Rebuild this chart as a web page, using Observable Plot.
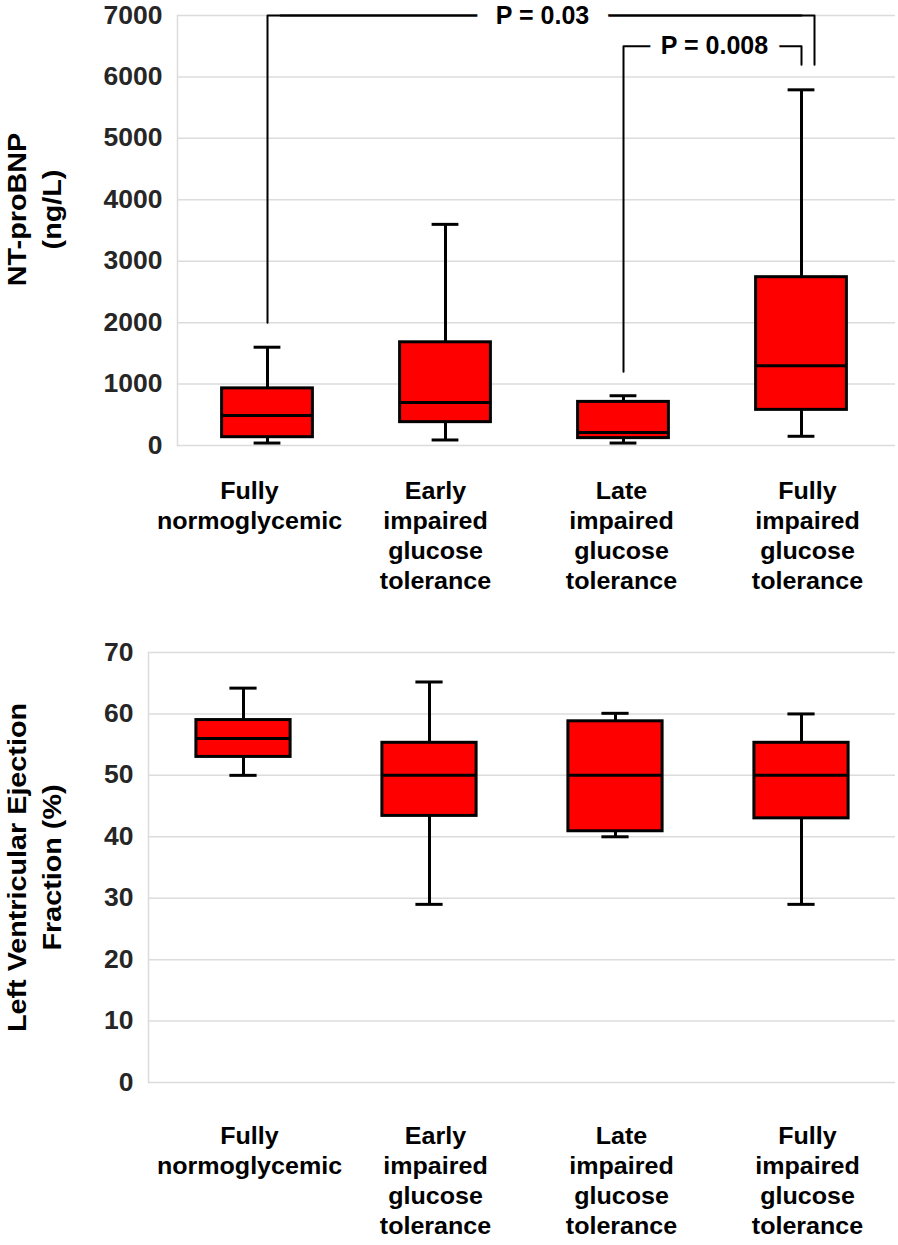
<!DOCTYPE html>
<html><head><meta charset="utf-8">
<script src="https://cdn.jsdelivr.net/npm/d3@7"></script>
<script src="https://cdn.jsdelivr.net/npm/@observablehq/plot@0.6"></script>
<style>
body{margin:0;background:#fff;}
#wrap{position:relative;width:898px;height:1245px;overflow:hidden;font-family:"Liberation Sans",Arial,sans-serif;}
#wrap > div{position:absolute;left:0;}
</style></head><body><div id="wrap">
<div id="top" style="top:0"></div>
<div id="topLabels" style="top:477px"></div>
<div id="bottom" style="top:637px"></div>
<div id="bottomLabels" style="top:1122px"></div>
</div>
<script>
// ---- data ----
const groups = ["Fully normoglycemic", "Early impaired glucose tolerance", "Late impaired glucose tolerance", "Fully impaired glucose tolerance"];
const groupLabels = ["Fully\nnormoglycemic", "Early\nimpaired\nglucose\ntolerance", "Late\nimpaired\nglucose\ntolerance", "Fully\nimpaired\nglucose\ntolerance"];

const bnpTitle = "NT-proBNP\n(ng/L)";
const bnpTicks = [0, 1000, 2000, 3000, 4000, 5000, 6000, 7000];
const bnpMin = [40, 90, 40, 150];
const bnpQ1  = [135, 380, 120, 580];
const bnpMed = [490, 700, 210, 1300];
const bnpQ3  = [930, 1680, 710, 2740];
const bnpMax = [1600, 3600, 810, 5790];

const pLabels = ["P = 0.03", "P = 0.008"];
const p03X = [groups[0], groups[0], groups[3], groups[3]];
const p03Y = [2000, 7000, 7000, 6200];
const p008X = [groups[2], groups[2], groups[3], groups[3]];
const p008Y = [1200, 6500, 6500, 6200];

const lvefTitle = "Left Ventricular Ejection\nFraction (%)";
const lvefTicks = [0, 10, 20, 30, 40, 50, 60, 70];
const lvefMin = [50, 29, 40, 29];
const lvefQ1  = [53, 43.4, 40.9, 43];
const lvefMed = [56, 50, 50, 50];
const lvefQ3  = [59, 55.3, 58.8, 55.3];
const lvefMax = [64.2, 65.2, 60.1, 60];

// ---- helpers ----
const FONT = '"Liberation Sans", Arial, sans-serif';
const rows = (lo, q1, med, q3, hi) => groups.map((g, i) => ({group: g, lo: lo[i], q1: q1[i], med: med[i], q3: q3[i], hi: hi[i]}));

function boxMarks(data, boxInset, capInset) {
  return [
    Plot.ruleX(data, {x: "group", y1: "lo", y2: "hi", stroke: "#000", strokeWidth: 3}),
    Plot.barY(data, {x: "group", y1: "q1", y2: "q3", fill: "#ff0000", stroke: "#000", strokeWidth: 3, insetLeft: boxInset, insetRight: boxInset}),
    Plot.tickY(data, {x: "group", y: "med", stroke: "#000", strokeWidth: 3, insetLeft: boxInset, insetRight: boxInset}),
    Plot.tickY(data, {x: "group", y: "lo", stroke: "#000", strokeWidth: 3, insetLeft: capInset, insetRight: capInset}),
    Plot.tickY(data, {x: "group", y: "hi", stroke: "#000", strokeWidth: 3, insetLeft: capInset, insetRight: capInset})
  ];
}
function frameMarks(ticks, title, dx, dy) {
  return [
    Plot.gridY(ticks, {stroke: "#dcdcdc", strokeOpacity: 1, strokeWidth: 1.5}),
    Plot.frame({anchor: "left", stroke: "#dcdcdc", strokeWidth: 1.5}),
    Plot.axisY(ticks, {tickSize: 0, tickPadding: 15, fontSize: 25, fontWeight: "bold", fill: "#262626", label: null, tickFormat: d => String(d)}),
    Plot.text([title], {text: d => d, frameAnchor: "left", rotate: -90, dx, dy, fontSize: 25, fontWeight: "bold", fill: "#000", lineHeight: 1.4, textAnchor: "middle", lineAnchor: "middle"})
  ];
}
// stretch glyphs along the text direction to match the reference's wide bold face
function widenText(svg) {
  svg.querySelectorAll("text").forEach(t => {
    const g = t.closest("g[font-size]");
    const fs = g ? +g.getAttribute("font-size") : 0;
    const tr = t.getAttribute("transform") || "";
    let sx = null;
    if (tr.includes("rotate")) sx = 1.15;
    else if (fs === 23) sx = 1.09;
    else if (g && g.getAttribute("aria-label") === "y-axis tick label") sx = 1.06;
    if (sx != null) t.setAttribute("transform", (tr + ` scale(${sx},1)`).trim());
  });
  return svg;
}
function labelStrip() {
  return widenText(Plot.plot({
    width: 898, height: 123, marginTop: 0, marginBottom: 0, marginLeft: 148, marginRight: 3,
    style: {fontFamily: FONT, background: "transparent", overflow: "visible"},
    x: {domain: groups, type: "band", padding: 0, axis: null},
    marks: [
      Plot.text(groups, {x: d => d, text: (d, i) => groupLabels[i], frameAnchor: "top", lineAnchor: "top", dx: 6,
        fontSize: 23, fontWeight: "bold", fill: "#000", lineHeight: 30 / 23, textAnchor: "middle"})
    ]
  }));
}

// ---- top panel ----
const topPlot = Plot.plot({
  width: 898, height: 460, marginTop: 15, marginBottom: 15, marginLeft: 177, marginRight: 3,
  style: {fontFamily: FONT, background: "transparent", overflow: "visible"},
  x: {domain: groups, type: "band", padding: 0, insetRight: 5, axis: null},
  y: {domain: [0, 7000], axis: null},
  marks: [
    ...frameMarks(bnpTicks, bnpTitle, -145, -21),
    ...boxMarks(rows(bnpMin, bnpQ1, bnpMed, bnpQ3, bnpMax), 43.6, 75.6),
    Plot.line(p03X.slice(0, 3), {x: p03X.slice(0, 3), y: p03Y.slice(0, 3), stroke: "#000", strokeWidth: 2}),
    Plot.line(p03X.slice(1), {x: p03X.slice(1), y: p03Y.slice(1), stroke: "#000", strokeWidth: 2, dx: 13}),
    Plot.line(p008X, {x: p008X, y: p008Y, stroke: "#000", strokeWidth: 2}),
    Plot.text([pLabels[0]], {x: [groups[1]], y: [p03Y[1]], text: d => d, dx: 97, fontSize: 25, fontWeight: "bold", fill: "#000", stroke: "#fff", strokeWidth: 40}),
    Plot.text([pLabels[1]], {x: [groups[2]], y: [p008Y[1]], text: d => d, dx: 91, fontSize: 25, fontWeight: "bold", fill: "#000", stroke: "#fff", strokeWidth: 24})
  ]
});
document.getElementById("top").append(widenText(topPlot));
document.getElementById("topLabels").append(labelStrip());

// ---- bottom panel ----
const bottomPlot = Plot.plot({
  width: 898, height: 460, marginTop: 15, marginBottom: 15, marginLeft: 148, marginRight: 3,
  style: {fontFamily: FONT, background: "transparent", overflow: "visible"},
  x: {domain: groups, type: "band", padding: 0, axis: null},
  y: {domain: [0, 70], axis: null},
  marks: [
    ...frameMarks(lvefTicks, lvefTitle, -116, 0),
    ...boxMarks(rows(lvefMin, lvefQ1, lvefMed, lvefQ3, lvefMax), 45.9, 79.4)
  ]
});
document.getElementById("bottom").append(widenText(bottomPlot));
document.getElementById("bottomLabels").append(labelStrip());
</script>
</body></html>
